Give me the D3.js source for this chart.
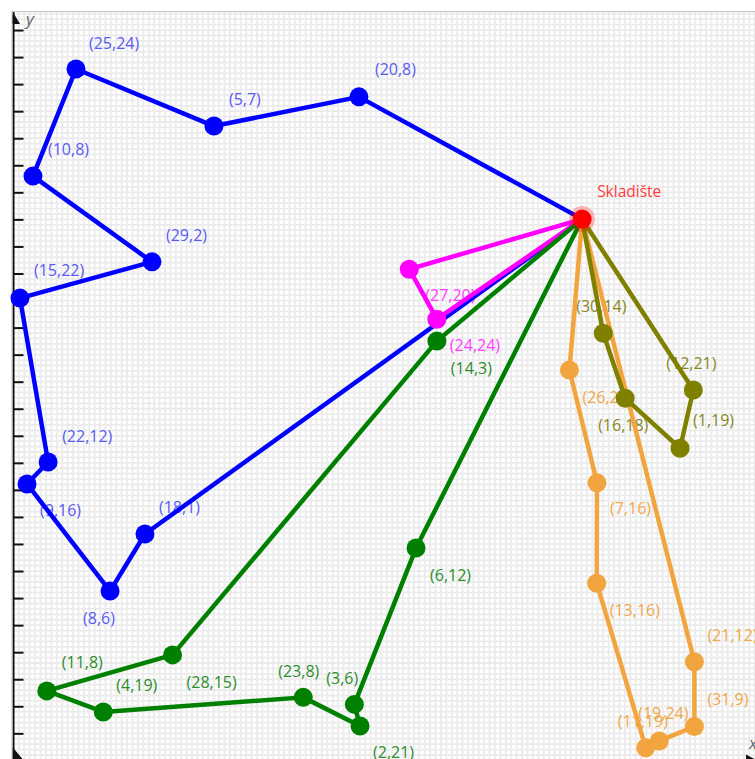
<!DOCTYPE html>
<html><head><meta charset="utf-8">
<script src="https://cdn.jsdelivr.net/npm/d3@7"></script>
<style>html,body{margin:0;padding:0;background:#fff;overflow:hidden}</style>
</head><body>
<svg id="chart" width="755" height="759"></svg>
<script>
// ---------------- DATA (axis units) ----------------
const depotName = "Skladište";
const depotXY = [21.02, 20.01];

const blueNames = ["(20,8)","(5,7)","(25,24)","(10,8)","(29,2)","(15,22)","(22,12)","(9,16)","(8,6)","(18,1)"];
const blueX = [12.77, 7.41, 2.31, 0.72, 5.12, 0.24, 1.28, 0.50, 3.57, 4.86];
const blueY = [24.53, 23.45, 25.56, 21.60, 18.43, 17.09, 11.03, 10.22, 6.26, 8.37];

const magentaNames = ["(27,20)","(24,24)"];
const magentaX = [14.63, 15.65];
const magentaY = [18.16, 16.31];

const greenNames = ["(14,3)","(28,15)","(11,8)","(4,19)","(23,8)","(2,21)","(3,6)","(6,12)"];
const greenX = [15.65, 5.88, 1.23, 3.32, 10.71, 12.81, 12.60, 14.88];
const greenY = [15.50, 3.90, 2.57, 1.79, 2.33, 1.27, 2.07, 7.85];

const orangeNames = ["(26,2)","(7,16)","(13,16)","(11,19)","(19,24)","(31,9)","(21,12)"];
const orangeX = [20.55, 21.57, 21.56, 23.37, 23.87, 25.17, 25.17];
const orangeY = [14.43, 10.26, 6.55, 0.47, 0.72, 1.25, 3.65];

const oliveNames = ["(30,14)","(16,18)","(1,19)","(12,21)"];
const oliveX = [21.80, 22.61, 24.64, 25.13];
const oliveY = [15.79, 13.39, 11.54, 13.69];

const xDomain = [0, 27.41];
const yDomain = [0, 27.70];

// ---------------- LAYOUT ----------------
const W = 755, H = 759;
const pLeft = 13.5, pRight = 755, pTop = 11.1, pBottom = 760.4;
const labelOffsets = {
  blue: [[16,-27],[15,-27],[13,-26],[15,-27],[14,-26],[14,-28],[14,-26],[13,26],[-27,27],[14,-27]],
  magenta: [[16,26],[13,26]],
  green: [[14,27],[14,27],[15,-28],[13,-27],[-25,-26],[13,26],[-28,-26],[14,27]],
  orange: [[13,27],[13,26],[13,27],[-28,-26],[-21,-28],[13,-27],[13,-26]],
  olive: [[-27,-27],[-27,27],[13,-28],[-27,-27]]
};
const depotOffset = [15,-28];

const routes = [
  {key:"blue", names:blueNames, xs:blueX, ys:blueY, color:"#0000ff", label:"#5a5af2"},
  {key:"magenta", names:magentaNames, xs:magentaX, ys:magentaY, color:"#ff00ff", label:"#ff3cff"},
  {key:"green", names:greenNames, xs:greenX, ys:greenY, color:"#008000", label:"#2b8d2b"},
  {key:"orange", names:orangeNames, xs:orangeX, ys:orangeY, color:"#f2a53f", label:"#f0a849"},
  {key:"olive", names:oliveNames, xs:oliveX, ys:oliveY, color:"#808000", label:"#87871f"}
];

const svg = d3.select("#chart");
const x = d3.scaleLinear().domain(xDomain).range([pLeft, pRight]);
const y = d3.scaleLinear().domain(yDomain).range([pBottom, pTop]);

svg.append("defs").append("clipPath").attr("id","plot")
  .append("rect").attr("x",12).attr("y",11).attr("width",W-12).attr("height",H-11);

const plot = svg.append("g").attr("clip-path","url(#plot)");

// grid (minor every 0.2 units)
const gx = d3.range(0, xDomain[1], 0.2);
const gy = d3.range(0, yDomain[1], 0.2);
plot.append("g").selectAll("line").data(gx).join("line")
  .attr("x1", d => x(d)).attr("x2", d => x(d)).attr("y1", 11).attr("y2", H)
  .attr("stroke", "#ebebeb").attr("stroke-width", 1.8);
plot.append("g").selectAll("line").data(gy).join("line")
  .attr("y1", d => y(d)).attr("y2", d => y(d)).attr("x1", 12).attr("x2", W)
  .attr("stroke", "#ebebeb").attr("stroke-width", 1.8);

// frame
svg.append("line").attr("x1",12).attr("x2",W).attr("y1",11.5).attr("y2",11.5).attr("stroke","#c4c4c4").attr("stroke-width",1);
svg.append("line").attr("x1",12).attr("x2",12).attr("y1",11).attr("y2",H).attr("stroke","#c4c4c4").attr("stroke-width",1);

// y axis
const yAxis = d3.axisRight(y).tickValues(d3.range(1, 28)).tickSize(10).tickFormat("");
const ya = plot.append("g").attr("transform", `translate(${pLeft},0)`).call(yAxis);
ya.select(".domain").remove();
ya.selectAll(".tick line").attr("stroke","#111").attr("stroke-width",2);
plot.append("line").attr("x1",pLeft).attr("x2",pLeft).attr("y1",pTop).attr("y2",H)
  .attr("stroke","#111").attr("stroke-width",2);
plot.append("path").attr("d", `M${pLeft},${pTop+2} L${pLeft+6.5},${pTop+13} L${pLeft-6.5},${pTop+13} Z`).attr("fill","#111");
// x axis (at bottom, mostly off-screen)
const xAxis = d3.axisBottom(x).tickValues(d3.range(1, 28)).tickSize(10).tickFormat("");
const xa = plot.append("g").attr("transform", `translate(0,${pBottom})`).call(xAxis);
xa.select(".domain").attr("stroke","#111").attr("stroke-width",2);
plot.append("path").attr("d", `M${pLeft-1},${H-12} L${pLeft+9},${H} L${pLeft-1},${H} Z`).attr("fill","#111");
plot.append("path").attr("d", `M${W+2},${pBottom} L${W-9},${pBottom-6} L${W-9},${pBottom+6} Z`).attr("fill","#111");
svg.append("text").attr("x", 26).attr("y", 25).text("y")
  .attr("font-family","'Open Sans', sans-serif").attr("font-style","italic").attr("font-size",17).attr("fill","#666");
svg.append("text").attr("x", 749).attr("y", 749).text("x")
  .attr("font-family","'Open Sans', sans-serif").attr("font-style","italic").attr("font-size",17).attr("fill","#666");

const font = "'Open Sans', sans-serif";
const fs = 16;

// labels (drawn beneath lines)
const labG = svg.append("g").attr("font-family", font).attr("font-size", fs);
routes.forEach(r => {
  const offs = labelOffsets[r.key];
  r.names.forEach((n, i) => {
    labG.append("text")
      .attr("x", x(r.xs[i]) + offs[i][0])
      .attr("y", y(r.ys[i]) + offs[i][1])
      .attr("dy", "0.35em")
      .attr("fill", r.label)
      .text(n);
  });
});
labG.append("text")
  .attr("x", x(depotXY[0]) + depotOffset[0])
  .attr("y", y(depotXY[1]) + depotOffset[1])
  .attr("dy","0.35em").attr("fill","#ff3a3a").attr("font-size", 15.5).text(depotName);

// routes
const line = d3.line().x(d => x(d[0])).y(d => y(d[1]));
routes.forEach(r => {
  const pts = [depotXY].concat(r.xs.map((v, i) => [v, r.ys[i]])).concat([depotXY]);
  const g = svg.append("g");
  g.append("path").attr("d", line(pts)).attr("fill","none")
    .attr("stroke", r.color).attr("stroke-width", 4.5).attr("stroke-linejoin","round").attr("stroke-linecap","round");
  g.selectAll("circle").data(r.xs.map((v, i) => [v, r.ys[i]])).join("circle")
    .attr("cx", d => x(d[0])).attr("cy", d => y(d[1])).attr("r", 9.5).attr("fill", r.color);
});

// depot
svg.append("circle").attr("cx", x(depotXY[0])).attr("cy", y(depotXY[1])).attr("r", 13)
  .attr("fill", "rgba(255,0,0,0.25)");
svg.append("circle").attr("cx", x(depotXY[0])).attr("cy", y(depotXY[1])).attr("r", 9.5)
  .attr("fill", "#ff0000");
</script>
</body></html>
